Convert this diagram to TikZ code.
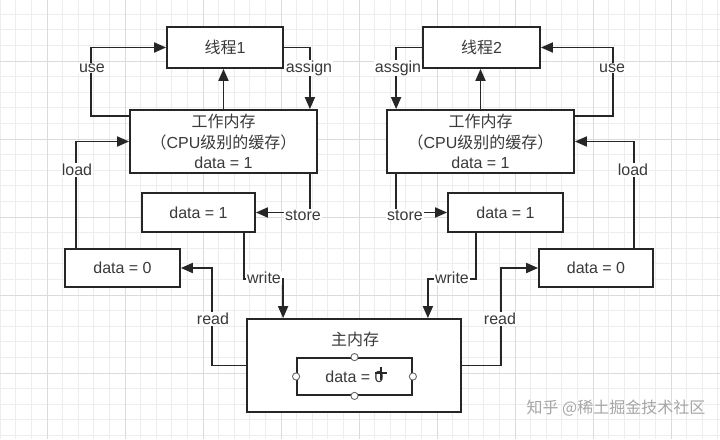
\documentclass[tikz,border=0pt]{standalone}
\usepackage{fontspec}
\usepackage{tikz}
\usetikzlibrary{calc, arrows.meta}
\setmainfont{Liberation Sans}
\newfontfamily\cjk{Noto Sans CJK SC}
\definecolor{ink}{RGB}{38, 38, 38}
\definecolor{txt}{RGB}{58, 58, 58}

\begin{document}
\begin{tikzpicture}[x=1pt, y=-1pt,
    box/.style={draw=ink, line width=1.8pt, fill=white, text=txt, inner sep=0pt, align=center,
      font=\fontsize{16}{20.5}\selectfont},
    lbl/.style={fill=white, text=txt, inner sep=1pt, font=\fontsize{16}{20}\selectfont},
    arr/.style={draw=ink, line width=1.8pt, -{Triangle[length=12pt, width=10pt]}},
    handle/.style={draw=ink!70, fill=white, line width=0.9pt}]
        \fill[white] (0,0) rectangle (720,439);
        \useasboundingbox (0,0) rectangle (720,439);
        \foreach \i in {-3,...,43} \draw[black!7, line width=0.7pt] (47+15.6*\i,0) -- (47+15.6*\i,439);
        \foreach \j in {-3,...,24} \draw[black!7, line width=0.7pt] (0,61+15.6*\j) -- (720,61+15.6*\j);
        \foreach \k in {0,...,8} \draw[black!14, line width=0.9pt] (47+78*\k,0) -- (47+78*\k,439);
        \foreach \k in {0,...,4} \draw[black!14, line width=0.9pt] (0,61+78*\k) -- (720,61+78*\k);

        % thread 1 side
        \node[box, minimum width=116pt, minimum height=41pt] (t1) at (225,47.5) {{\cjk 线程}1};
        \node[box, minimum width=187pt, minimum height=63pt] (wm1) at (223.5,141.5)
          {{\cjk 工作内存}\\{\cjk （}CPU{\cjk 级别的缓存）}\\data = 1};
        \node[box, minimum width=113pt, minimum height=39pt] (s1) at (198.5,212.5) {data = 1};
        \node[box, minimum width=115pt, minimum height=38pt] (r1) at (122.5,268) {data = 0};

        % thread 2 side
        \node[box, minimum width=117pt, minimum height=41pt] (t2) at (481.5,47.5) {{\cjk 线程}2};
        \node[box, minimum width=187pt, minimum height=63pt] (wm2) at (480.5,141.5)
          {{\cjk 工作内存}\\{\cjk （}CPU{\cjk 级别的缓存）}\\data = 1};
        \node[box, minimum width=115pt, minimum height=39pt] (s2) at (505.5,212.5) {data = 1};
        \node[box, minimum width=114pt, minimum height=38pt] (r2) at (596,268) {data = 0};

        % main memory
        \node[box, minimum width=214pt, minimum height=93pt] (mm) at (354,365.5) {};
        \node[text=txt, font=\fontsize{16}{20}\selectfont] (mmt) at (355,339) {\cjk 主内存};
        \node[box, minimum width=115pt, minimum height=37pt] (md) at (354.5,376.5) {data = 0};
        \foreach \a in {north,south,east,west} \draw[handle] (md.\a) circle (3.6pt);
        \draw[ink, line width=2pt] (375,373) -- (387,373) (381,367) -- (381,380);

        \draw[arr] ([yshift=-7pt]wm1.north west) -- ++(-38,0) |- (t1.west);
        \draw[arr] (wm1.north) -- (wm1.north |- t1.south);
        \draw[arr] (t1.east) -| ([xshift=-8pt]wm1.north east);
        \draw[arr] ([xshift=12pt]r1.north west) |- (wm1.west);
        \draw[arr] ([xshift=-8pt]wm1.south east) |- (s1.east);
        \draw[arr] ([xshift=-12pt]s1.south east) -- ++(0,46) -| ([xshift=37pt]mm.north west);
        \draw[arr] (mm.west) -- ++(-34,0) |- (r1.east);

        \draw[arr] ([yshift=-7pt]wm2.north east) -- ++(38,0) |- (t2.east);
        \draw[arr] (wm2.north) -- (wm2.north |- t2.south);
        \draw[arr] (t2.west) -| ([xshift=10pt]wm2.north west);
        \draw[arr] ([xshift=-20pt]r2.north east) |- (wm2.east);
        \draw[arr] ([xshift=10pt]wm2.south west) |- (s2.west);
        \draw[arr] ([xshift=29pt]s2.south west) -- ++(0,46) -| ([xshift=-34pt]mm.north east);
        \draw[arr] (mm.east) -- ++(39,0) |- (r2.west);

        \node[lbl] (use1) at (92,68) {use};
        \node[lbl] (asg1) at (309,68) {assign};
        \node[lbl] (ld1) at (77,170) {load};
        \node[lbl] (st1) at (303,215) {store};
        \node[lbl] (wr1) at (264,278) {write};
        \node[lbl] (rd1) at (213,319) {read};
        \node[lbl] (use2) at (612,68) {use};
        \node[lbl] (asg2) at (398,68) {assgin};
        \node[lbl] (ld2) at (633,170) {load};
        \node[lbl] (st2) at (405,215) {store};
        \node[lbl] (wr2) at (452,278) {write};
        \node[lbl] (rd2) at (500,319) {read};

        \node[text=black!35, font=\cjk\fontsize{16}{20}\selectfont] (wm) at (616,408) {知乎 @稀土掘金技术社区};
      \end{tikzpicture}
\end{document}
